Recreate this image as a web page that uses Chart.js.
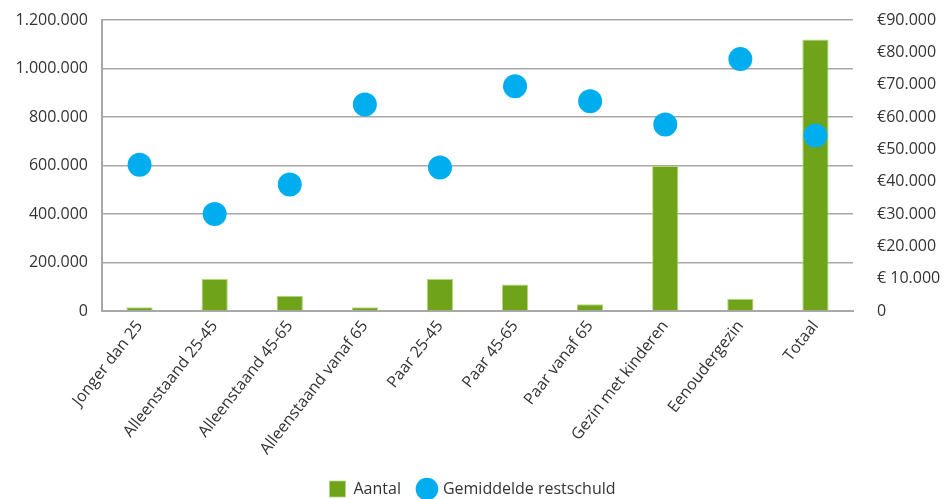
<!DOCTYPE html>
<html>
<head>
<meta charset="utf-8">
<script src="https://cdn.jsdelivr.net/npm/chart.js@4/dist/chart.umd.min.js"></script>
<style>
  html, body { margin: 0; padding: 0; background: #fff; }
  #wrap { width: 945px; height: 499px; }
</style>
</head>
<body>
<div id="wrap"><canvas id="c" width="945" height="499"></canvas></div>
<script>
const categories = ["Jonger dan 25", "Alleenstaand 25-45", "Alleenstaand 45-65", "Alleenstaand vanaf 65", "Paar 25-45", "Paar 45-65", "Paar vanaf 65", "Gezin met kinderen", "Eenoudergezin", "Totaal"];
const aantal = [15000, 132000, 63000, 15000, 132000, 109000, 28000, 598000, 51000, 1120000];
const restschuld = [45200, 30000, 39100, 63900, 44400, 69500, 64900, 57700, 77900, 54300];
const leftTickLabels = ["0", "200.000", "400.000", "600.000", "800.000", "1.000.000", "1.200.000"];
const rightTickLabels = ["0", "€ 10.000", "€20.000", "€30.000", "€40.000", "€50.000", "€60.000", "€70.000", "€80.000", "€90.000"];

const FONT = "'Open Sans', 'Noto Sans', sans-serif";
const TXT = '#333333';
const GRID = '#a8a8a8';
const GREEN = '#6fa41a';
const BLUE = '#00aeef';

new Chart(document.getElementById('c'), {
  data: {
    labels: categories,
    datasets: [
      {
        type: 'bar', label: 'Aantal', data: aantal, yAxisID: 'y',
        backgroundColor: GREEN, borderColor: '#b5d67f', borderWidth: {top: 1, left: 1, right: 1, bottom: 0},
        barPercentage: 0.35, categoryPercentage: 1.0, order: 2, pointStyle: 'rect'
      },
      {
        type: 'line', label: 'Gemiddelde restschuld', data: restschuld, yAxisID: 'y1',
        showLine: false, pointRadius: 12, pointHoverRadius: 12, pointBackgroundColor: BLUE,
        pointBorderWidth: 0, backgroundColor: BLUE, borderColor: BLUE, order: 1, pointStyle: 'circle'
      }
    ]
  },
  options: {
    responsive: false,
    animation: false,
    devicePixelRatio: 1,
    layout: { padding: { top: 20, left: 0, right: 0, bottom: -8 } },
    plugins: {
      tooltip: { enabled: false },
      legend: {
        position: 'bottom',
        labels: {
          usePointStyle: true, boxHeight: 18, color: TXT, padding: 18,
          font: { family: FONT, size: 16 },
          sort: (a, b) => a.datasetIndex - b.datasetIndex
        }
      }
    },
    scales: {
      x: {
        grid: { display: false, drawTicks: false },
        border: { display: true, color: GRID, width: 2 },
        ticks: { color: TXT, font: { family: FONT, size: 16 }, minRotation: 52, maxRotation: 52, padding: 6, autoSkip: false },
        afterFit: s => { s.height = 152; }
      },
      y: {
        position: 'left', min: 0, max: 1200000,
        grid: { color: GRID, lineWidth: 1.5, drawTicks: false },
        border: { display: true, color: GRID, width: 2 },
        ticks: {
          stepSize: 200000, color: TXT, padding: 14, font: { family: FONT, size: 16 },
          callback: (v) => leftTickLabels[Math.round(v / 200000)]
        },
        afterFit: s => { s.width = 102; s.paddingTop = 0; s.paddingBottom = 0; }
      },
      y1: {
        position: 'right', min: 0, max: 90000,
        grid: { display: false, drawTicks: false },
        border: { display: false },
        ticks: {
          stepSize: 10000, color: TXT, padding: 24, font: { family: FONT, size: 16 },
          callback: (v) => rightTickLabels[Math.round(v / 10000)]
        },
        afterFit: s => { s.width = 92; s.paddingTop = 0; s.paddingBottom = 0; }
      }
    }
  }
});
</script>
</body>
</html>
